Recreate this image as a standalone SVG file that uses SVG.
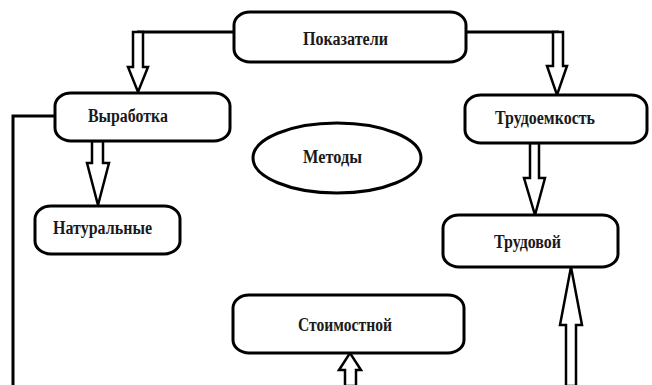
<svg xmlns="http://www.w3.org/2000/svg" width="652" height="385" viewBox="0 0 652 385">
<style>
.box{fill:#fff;stroke:#000;stroke-width:3}
.lbl{font-family:"Liberation Serif","Times New Roman",serif;font-weight:bold;font-size:18px;fill:#1a1a1a;text-anchor:middle;dominant-baseline:central}
.line{fill:none;stroke:#000;stroke-width:3}
.harrow{fill:#fff;stroke:#000;stroke-width:2.5;stroke-linejoin:miter}
</style>
<rect width="652" height="385" fill="#fff"/>
<g id="connectors">
<polyline class="line" points="234,32 137,32"/>
<polygon class="harrow" points="133,32 143,32 143,67 148,67 138,92 128,67 133,67"/>
<polyline class="line" points="466,32 559,32"/>
<polygon class="harrow" points="553,32 563,32 563,66 567,66 557,95 547,66 553,66"/>
<polyline class="line" points="55,116 13,116 13,385"/>
<polygon class="harrow" points="92,141 103,141 103,163 109,163 98,205 87,163 92,163"/>
<polygon class="harrow" points="530,143 539,143 539,178 545,178 535,215 524,178 530,178"/>
<polygon class="harrow" points="566,386 576,386 576,325 582,325 571,267 560,325 566,325"/>
<polygon class="harrow" points="345,386 356,386 356,370 361,370 350,353 339,370 345,370"/>
</g>
<g id="node-pokazateli">
<rect class="box" x="234" y="12" width="232" height="50" rx="16" ry="13"/>
<text class="lbl" x="345.5" y="39" textLength="85" lengthAdjust="spacingAndGlyphs">Показатели</text>
</g>
<g id="node-vyrabotka">
<rect class="box" x="55" y="93" width="175" height="48" rx="16" ry="13"/>
<text class="lbl" x="128" y="116" textLength="80" lengthAdjust="spacingAndGlyphs">Выработка</text>
</g>
<g id="node-trudoemkost">
<rect class="box" x="465" y="95" width="182" height="48" rx="16" ry="13"/>
<text class="lbl" x="545" y="118" textLength="100" lengthAdjust="spacingAndGlyphs">Трудоемкость</text>
</g>
<g id="node-metody">
<ellipse class="box" cx="337" cy="158" rx="84" ry="35"/>
<text class="lbl" x="332.5" y="157" textLength="59" lengthAdjust="spacingAndGlyphs">Методы</text>
</g>
<g id="node-naturalnye">
<rect class="box" x="35" y="206" width="145" height="48" rx="16" ry="13"/>
<text class="lbl" x="102.5" y="228" textLength="99" lengthAdjust="spacingAndGlyphs">Натуральные</text>
</g>
<g id="node-trudovoy">
<rect class="box" x="443" y="215" width="175" height="52" rx="16" ry="13"/>
<text class="lbl" x="527.5" y="242" textLength="67" lengthAdjust="spacingAndGlyphs">Трудовой</text>
</g>
<g id="node-stoimostnoy">
<rect class="box" x="233" y="295" width="231" height="58" rx="16" ry="13"/>
<text class="lbl" x="345" y="325" textLength="94" lengthAdjust="spacingAndGlyphs">Стоимостной</text>
</g>
</svg>
